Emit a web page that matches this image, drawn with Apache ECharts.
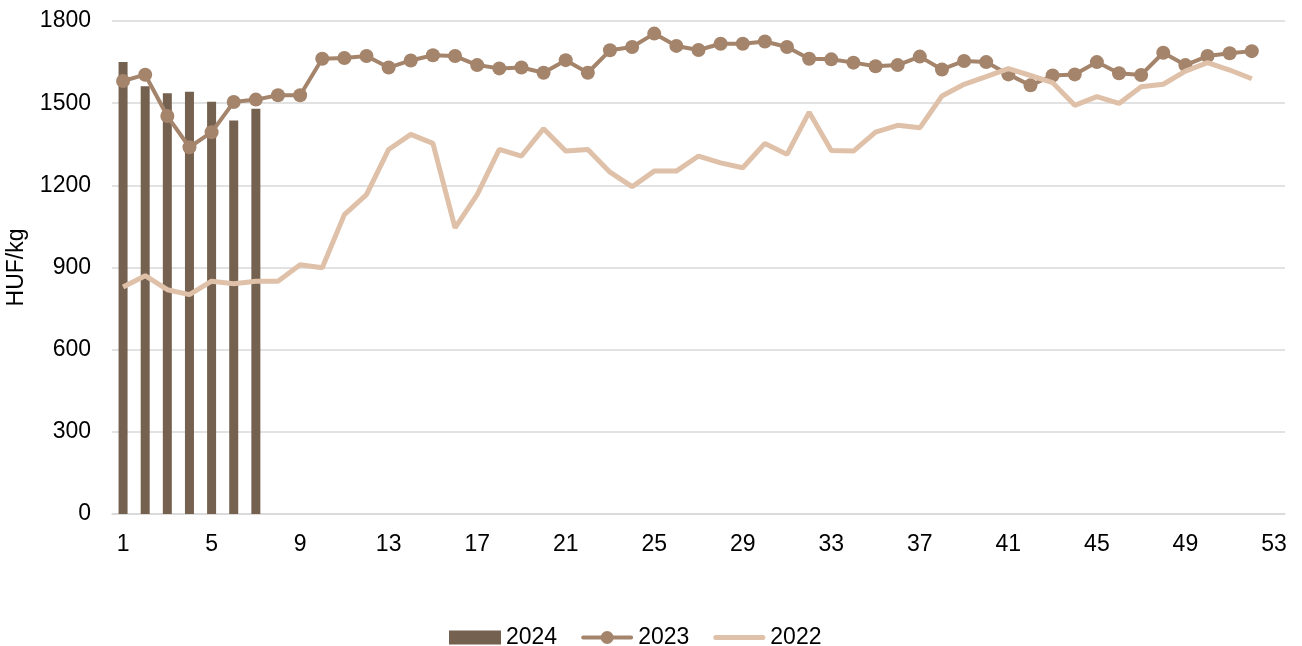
<!DOCTYPE html>
<html>
<head>
<meta charset="utf-8">
<script src="https://cdn.jsdelivr.net/npm/echarts@6/dist/echarts.min.js"></script>
<style>
html,body{margin:0;padding:0;background:#fff;}
#chart{width:1302px;height:646px;}
</style>
</head>
<body>
<div id="chart"></div>
<script>
const weeks = Array.from({length: 53}, (_, i) => String(i + 1));
const yTicks = [0, 300, 600, 900, 1200, 1500, 1800];
const values2024 = [1650, 1562, 1536, 1542, 1505, 1437, 1480];
const values2023 = [1581, 1604, 1453, 1339, 1394, 1504, 1513, 1529, 1529, 1662,
  1665, 1672, 1630, 1656, 1675, 1672, 1639, 1627, 1630, 1611,
  1657, 1611, 1693, 1705, 1754, 1709, 1694, 1717, 1717, 1725,
  1705, 1662, 1660, 1648, 1635, 1639, 1670, 1623, 1654, 1650,
  1605, 1565, 1601, 1605, 1650, 1609, 1603, 1684, 1639, 1672,
  1682, 1690];
const values2022 = [829, 870, 819, 801, 850, 841, 850, 850, 910, 899,
  1093, 1166, 1331, 1386, 1353, 1045, 1166, 1331, 1307, 1407,
  1325, 1331, 1248, 1195, 1252, 1252, 1307, 1282, 1264, 1353,
  1313, 1467, 1327, 1325, 1394, 1419, 1410, 1526, 1569, 1597,
  1626, 1601, 1575, 1492, 1524, 1499, 1560, 1569, 1617, 1648,
  1621, 1589];
const seriesNames = ['2024', '2023', '2022'];
const colors = ['#74614f', '#a4846b', '#dfc0a8'];

const chart = echarts.init(document.getElementById('chart'));
const font = 'Liberation Sans, Arial, sans-serif';
const fs = 23;
chart.setOption({
  animation: false,
  textStyle: {fontFamily: font},
  grid: {left: 112, right: 17, top: 21, bottom: 132, containLabel: false, outerBoundsMode: 'none'},
  legend: {
    top: 621,
    left: 444,
    itemWidth: 52,
    itemHeight: 14,
    itemGap: 24,
    textStyle: {fontSize: fs, color: '#000', fontFamily: font},
    data: [
      {name: seriesNames[0], icon: 'path://M0,0 L52,0 L52,14 L0,14 Z'},
      {name: seriesNames[1], icon: 'path://M0,0 M2,5 L21,5 L21,9 L2,9 A2,2 0 0 1 2,5 Z M31,5 L50,5 A2,2 0 0 1 50,9 L31,9 Z M19.5,7 A6.5,6.5 0 1 1 32.5,7 A6.5,6.5 0 1 1 19.5,7 Z M52,14'},
      {name: seriesNames[2], icon: 'path://M0,0 M2.5,4.5 L49.5,4.5 A2.5,2.5 0 0 1 49.5,9.5 L2.5,9.5 A2.5,2.5 0 0 1 2.5,4.5 Z M52,14'}
    ]
  },
  xAxis: {
    type: 'category',
    data: weeks,
    boundaryGap: true,
    axisLine: {lineStyle: {color: '#d9d9d9', width: 1.5}},
    axisTick: {show: false},
    axisLabel: {interval: 3, margin: 19, fontSize: fs, color: '#000', fontFamily: font}
  },
  yAxis: {
    type: 'value',
    min: yTicks[0],
    max: yTicks[yTicks.length - 1],
    interval: 300,
    name: 'HUF/kg',
    nameLocation: 'middle',
    nameGap: 84,
    nameRotate: 90,
    nameTextStyle: {fontSize: fs, color: '#000', fontFamily: font},
    axisLine: {show: false},
    axisTick: {show: false},
    axisLabel: {margin: 21, fontSize: fs, color: '#000', fontFamily: font,
      formatter: v => String(v)},
    splitLine: {lineStyle: {color: '#d9d9d9', width: 1.5}}
  },
  series: [
    {
      name: seriesNames[0],
      type: 'bar',
      data: values2024,
      barWidth: 9,
      itemStyle: {color: colors[0]},
      z: 1
    },
    {
      name: seriesNames[1],
      type: 'line',
      data: values2023,
      symbol: 'circle',
      symbolSize: 14,
      showAllSymbol: true,
      lineStyle: {color: colors[1], width: 4},
      itemStyle: {color: colors[1]},
      z: 2
    },
    {
      name: seriesNames[2],
      type: 'line',
      data: values2022,
      symbol: 'none',
      lineStyle: {color: colors[2], width: 5},
      itemStyle: {color: colors[2]},
      z: 3
    }
  ]
});
</script>
</body>
</html>
